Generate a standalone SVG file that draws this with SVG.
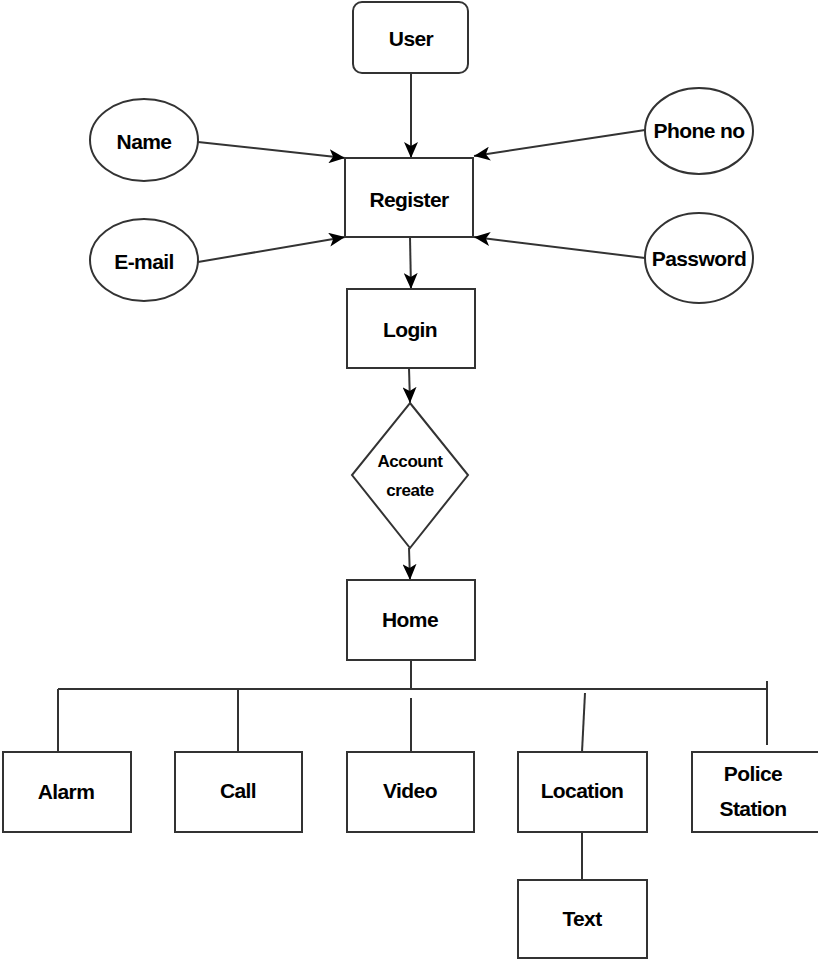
<svg xmlns="http://www.w3.org/2000/svg" width="818" height="961" viewBox="0 0 818 961">
<style>
.box{fill:#fff;stroke:#333;stroke-width:2}
.ln{fill:none;stroke:#333;stroke-width:2}
.t{font-family:"Liberation Sans",Arial,sans-serif;font-weight:bold;font-size:21px;fill:#000;text-anchor:middle;dominant-baseline:central;letter-spacing:-0.6px}
.s{font-size:17px;letter-spacing:-0.4px}
</style>
<defs>
<marker id="arr" viewBox="0 0 16 14" refX="16" refY="7" markerWidth="16" markerHeight="14" markerUnits="userSpaceOnUse" orient="auto">
<path d="M0,0 L16,7 L0,14 L4,7 Z" fill="#000"/>
</marker>
</defs>
<rect width="818" height="961" fill="#fff"/>
<g id="connectors">
<line class="ln" x1="411" y1="73" x2="411" y2="158" marker-end="url(#arr)"/>
<line class="ln" x1="198" y1="142" x2="345" y2="158" marker-end="url(#arr)"/>
<line class="ln" x1="198" y1="262" x2="345" y2="237" marker-end="url(#arr)"/>
<line class="ln" x1="645" y1="130" x2="474" y2="156" marker-end="url(#arr)"/>
<line class="ln" x1="645" y1="258" x2="474" y2="237" marker-end="url(#arr)"/>
<line class="ln" x1="410" y1="237" x2="411" y2="289" marker-end="url(#arr)"/>
<line class="ln" x1="409" y1="368" x2="410" y2="403" marker-end="url(#arr)"/>
<line class="ln" x1="409" y1="548" x2="410" y2="580" marker-end="url(#arr)"/>
<line class="ln" x1="411" y1="660" x2="411" y2="689"/>
<line class="ln" x1="58" y1="689" x2="768" y2="689"/>
<line class="ln" x1="58" y1="689" x2="58" y2="755"/>
<line class="ln" x1="238" y1="689" x2="238" y2="752"/>
<line class="ln" x1="411" y1="698" x2="411" y2="752"/>
<line class="ln" x1="585" y1="693" x2="582" y2="752"/>
<line class="ln" x1="767" y1="681" x2="767" y2="745"/>
<line class="ln" x1="582" y1="832" x2="582" y2="880"/>
</g>
<g id="user"><rect class="box" x="353" y="2" width="115" height="71" rx="9"/><text class="t" x="411" y="38">User</text></g>
<g id="name"><ellipse class="box" cx="144" cy="140" rx="54" ry="41"/><text class="t" x="144" y="141">Name</text></g>
<g id="email"><ellipse class="box" cx="144" cy="260" rx="54" ry="41"/><text class="t" x="144" y="261">E-mail</text></g>
<g id="phone"><ellipse class="box" cx="699" cy="131" rx="54" ry="43"/><text class="t" x="699" y="130">Phone no</text></g>
<g id="password"><ellipse class="box" cx="699" cy="258" rx="54" ry="45"/><text class="t" x="699" y="258">Password</text></g>
<g id="register"><rect class="box" x="345" y="158" width="128" height="79"/><text class="t" x="409" y="199">Register</text></g>
<g id="login"><rect class="box" x="347" y="289" width="128" height="79"/><text class="t" x="410" y="329">Login</text></g>
<g id="account"><polygon class="box" points="410,403 468,475 410,548 352,475"/><text class="t s" x="410" y="461">Account</text><text class="t s" x="410" y="490">create</text></g>
<g id="home"><rect class="box" x="347" y="580" width="128" height="80"/><text class="t" x="410" y="619">Home</text></g>
<g id="alarm"><rect class="box" x="3" y="752" width="128" height="80"/><text class="t" x="66" y="791">Alarm</text></g>
<g id="call"><rect class="box" x="175" y="752" width="127" height="80"/><text class="t" x="238" y="790">Call</text></g>
<g id="video"><rect class="box" x="347" y="752" width="127" height="80"/><text class="t" x="410" y="790">Video</text></g>
<g id="location"><rect class="box" x="518" y="752" width="129" height="80"/><text class="t" x="582" y="790">Location</text></g>
<g id="police"><rect class="box" x="692" y="752" width="130" height="80"/><text class="t" x="753" y="773">Police</text><text class="t" x="753" y="808">Station</text></g>
<g id="text"><rect class="box" x="518" y="880" width="129" height="78"/><text class="t" x="582" y="918">Text</text></g>
</svg>
